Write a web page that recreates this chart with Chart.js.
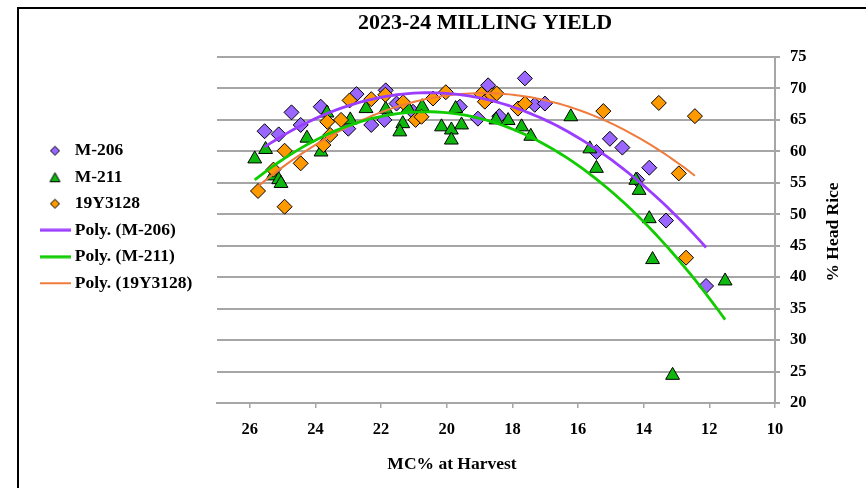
<!DOCTYPE html>
<html>
<head>
<meta charset="utf-8">
<title>2023-24 Milling Yield</title>
<script src="https://cdn.jsdelivr.net/npm/chart.js@4.4.0/dist/chart.umd.min.js"></script>
<style>
  html, body { margin: 0; padding: 0; background: #fff; }
  #wrap { position: relative; width: 866px; height: 488px; overflow: hidden; }
  #frame { position: absolute; left: 17px; top: 7px; width: 900px; height: 520px;
           border-left: 2px solid #000; border-top: 2px solid #000; pointer-events: none; }
</style>
</head>
<body>
<div id="wrap">
  <canvas id="chart" width="866" height="488"></canvas>
  <div id="frame"></div>
</div>
<script>
// Harvest moisture (MC%) and head rice (%) per variety
const mc206 = [25.55, 25.12, 24.73, 24.45, 23.84, 23.0, 22.75, 22.3, 21.9, 21.86, 21.53, 21.03,
               19.6, 19.05, 18.74, 18.4, 17.62, 17.32, 17.01, 15.44, 15.03, 14.65, 14.2, 13.83, 13.32, 12.1];
const hr206 = [63.2, 62.7, 66.2, 64.2, 67.1, 63.6, 69.1, 64.2, 65.0, 69.7, 67.6, 66.3,
               67.1, 65.2, 70.5, 65.6, 71.6, 67.4, 67.6, 59.9, 62.0, 60.6, 55.5, 57.4, 49.0, 38.6];

const mc211 = [25.85, 25.52, 25.3, 25.12, 25.05, 24.26, 23.83, 23.65, 22.94, 22.46, 21.86, 21.34,
               21.43, 21.18, 20.75, 20.16, 19.86, 19.86, 19.55, 19.73, 18.5, 18.13, 17.72, 17.44,
               16.22, 15.64, 15.44, 14.24, 14.14, 13.83, 13.73, 13.12, 11.52];
const hr211 = [58.8, 60.3, 56.1, 55.5, 54.9, 62.1, 59.9, 66.1, 65.0, 66.8, 66.7, 64.4,
               63.1, 66.8, 67.1, 63.9, 63.4, 61.8, 64.2, 66.8, 65.0, 64.9, 63.9, 62.4,
               65.5, 60.4, 57.3, 55.4, 53.8, 49.3, 42.8, 24.4, 39.4];

const mc3128 = [25.75, 25.28, 24.94, 24.94, 24.45, 23.76, 23.64, 23.55, 23.22, 22.96, 22.3, 21.87,
                21.33, 20.95, 20.77, 20.42, 20.03, 18.94, 18.84, 18.62, 18.48, 17.83, 17.62,
                15.23, 13.54, 12.93, 12.71, 12.44];
const hr3128 = [53.7, 57.1, 51.2, 60.1, 58.1, 61.0, 64.7, 62.6, 65.0, 68.1, 68.3, 69.0,
                67.8, 65.0, 65.5, 68.4, 69.4, 69.1, 67.9, 68.9, 69.2, 66.8, 67.6,
                66.4, 67.7, 56.5, 43.1, 65.6];

const seriesNames = ['M-206', 'M-211', '19Y3128'];
const xTicks = { min: 10, max: 27, step: 2 };
const yTicks = { min: 20, max: 75, step: 5 };

const FONT = "'Liberation Serif', 'Times New Roman', serif";

// Second-order least-squares fit y = a + b x + c x^2
function quadFit(xs, ys) {
  const n = xs.length;
  let s = [0, 0, 0, 0, 0], t = [0, 0, 0];
  for (let i = 0; i < n; i++) {
    const x = xs[i], y = ys[i];
    let p = 1;
    for (let k = 0; k <= 4; k++) { s[k] += p; if (k <= 2) t[k] += p * y; p *= x; }
  }
  const A = [[s[0], s[1], s[2], t[0]], [s[1], s[2], s[3], t[1]], [s[2], s[3], s[4], t[2]]];
  for (let i = 0; i < 3; i++) {
    for (let j = i + 1; j < 3; j++) {
      const f = A[j][i] / A[i][i];
      for (let k = i; k < 4; k++) A[j][k] -= f * A[i][k];
    }
  }
  const c = [0, 0, 0];
  for (let i = 2; i >= 0; i--) {
    let v = A[i][3];
    for (let k = i + 1; k < 3; k++) v -= A[i][k] * c[k];
    c[i] = v / A[i][i];
  }
  return c;
}

function trendPoints(xs, ys) {
  const c = quadFit(xs, ys);
  const lo = Math.min(...xs), hi = Math.max(...xs);
  const pts = [];
  const steps = 80;
  for (let i = 0; i <= steps; i++) {
    const x = lo + (hi - lo) * i / steps;
    pts.push({ x, y: c[0] + c[1] * x + c[2] * x * x });
  }
  return pts;
}

const toPts = (xs, ys) => xs.map((x, i) => ({ x, y: ys[i] }));

const COL = {
  p206: '#9966ff', p211: '#0fb80f', p3128: '#ff9900',
  t206: '#9b3dff', t211: '#11cc00', t3128: '#ef7b3c'
};

// Small glyphs used in the legend
function glyph(w, h, draw) {
  const c = document.createElement('canvas');
  c.width = w; c.height = h;
  draw(c.getContext('2d'));
  return c;
}
const legendGlyphs = [
  glyph(12, 12, g => { g.beginPath(); g.moveTo(6, 1.5); g.lineTo(10.5, 6); g.lineTo(6, 10.5); g.lineTo(1.5, 6); g.closePath();
                       g.fillStyle = COL.p206; g.fill(); g.lineWidth = 1; g.strokeStyle = '#000'; g.stroke(); }),
  glyph(13, 12, g => { g.beginPath(); g.moveTo(6.5, 1.5); g.lineTo(11.5, 10.5); g.lineTo(1.5, 10.5); g.closePath();
                       g.fillStyle = COL.p211; g.fill(); g.lineWidth = 1; g.strokeStyle = '#000'; g.stroke(); }),
  glyph(12, 12, g => { g.beginPath(); g.moveTo(6, 1.5); g.lineTo(10.5, 6); g.lineTo(6, 10.5); g.lineTo(1.5, 6); g.closePath();
                       g.fillStyle = COL.p3128; g.fill(); g.lineWidth = 1; g.strokeStyle = '#000'; g.stroke(); }),
  glyph(31, 4, g => { g.fillStyle = COL.t206; g.fillRect(0, 0.5, 31, 3); }),
  glyph(31, 4, g => { g.fillStyle = COL.t211; g.fillRect(0, 0.5, 31, 3); }),
  glyph(31, 4, g => { g.fillStyle = COL.t3128; g.fillRect(0, 1, 31, 2); })
];

// Chart title and axis titles
const titlesPlugin = {
  id: 'titles',
  afterDraw(chart) {
    const ctx = chart.ctx;
    ctx.save();
    ctx.fillStyle = '#000';
    ctx.textAlign = 'center';
    ctx.textBaseline = 'middle';
    ctx.font = 'bold 22px ' + FONT;
    ctx.fillText('2023-24 MILLING YIELD', 485, 23);
    ctx.font = 'bold 17.5px ' + FONT;
    ctx.fillText('MC% at Harvest', 452, 464);
    ctx.translate(833, 232);
    ctx.rotate(-Math.PI / 2);
    ctx.fillText('% Head Rice', 0, 0);
    ctx.restore();
  }
};

const tickFont = { family: FONT, size: 16.5, weight: 'bold' };
const gridGrey = '#a6a6a6';

new Chart(document.getElementById('chart'), {
  type: 'scatter',
  data: {
    datasets: [
      { label: seriesNames[0], data: toPts(mc206, hr206), order: 3,
        pointStyle: 'rectRot', pointRadius: 7.5, backgroundColor: COL.p206, borderColor: '#000', borderWidth: 1 },
      { label: seriesNames[1], data: toPts(mc211, hr211), order: 2,
        pointStyle: 'triangle', pointRadius: 8, backgroundColor: COL.p211, borderColor: '#000', borderWidth: 1 },
      { label: seriesNames[2], data: toPts(mc3128, hr3128), order: 1,
        pointStyle: 'rectRot', pointRadius: 7.5, backgroundColor: COL.p3128, borderColor: '#000', borderWidth: 1 },
      { label: 'Poly. (' + seriesNames[0] + ')', data: trendPoints(mc206, hr206), order: 0, showLine: true,
        pointRadius: 0, borderColor: COL.t206, backgroundColor: COL.t206, borderWidth: 2.8, tension: 0 },
      { label: 'Poly. (' + seriesNames[1] + ')', data: trendPoints(mc211, hr211), order: 0, showLine: true,
        pointRadius: 0, borderColor: COL.t211, backgroundColor: COL.t211, borderWidth: 2.8, tension: 0 },
      { label: 'Poly. (' + seriesNames[2] + ')', data: trendPoints(mc3128, hr3128), order: 0, showLine: true,
        pointRadius: 0, borderColor: COL.t3128, backgroundColor: COL.t3128, borderWidth: 2, tension: 0 }
    ]
  },
  options: {
    responsive: false,
    animation: false,
    devicePixelRatio: 1,
    layout: { padding: { left: 35, top: 57, right: 0, bottom: 0 } },
    plugins: {
      tooltip: { enabled: false },
      title: { display: false },
      legend: {
        display: true,
        position: 'left',
        align: 'start',
        maxWidth: 300,
        title: { display: true, text: ' ', font: { size: 10 }, padding: { top: 64, bottom: 0 } },
        labels: {
          usePointStyle: true,
          pointStyleWidth: 22,
          padding: 9,
          color: '#000',
          font: { family: FONT, size: 17.5, weight: 'bold' },
          sort: (a, b) => a.datasetIndex - b.datasetIndex,
          generateLabels(chart) {
            const items = Chart.defaults.plugins.legend.labels.generateLabels(chart);
            items.forEach(it => { it.pointStyle = legendGlyphs[it.datasetIndex]; it.rotation = 0; });
            return items;
          }
        }
      }
    },
    scales: {
      x: {
        type: 'linear', reverse: true, min: xTicks.min, max: xTicks.max,
        ticks: { stepSize: xTicks.step, includeBounds: false, color: '#000', font: tickFont, padding: 12, maxRotation: 0 },
        grid: { drawOnChartArea: false, drawTicks: true, tickLength: 5, color: gridGrey, lineWidth: 1.5 },
        border: { display: true, color: gridGrey, width: 2 },
        afterFit(s) { s.height = 85; }
      },
      y: {
        type: 'linear', position: 'right', min: yTicks.min, max: yTicks.max,
        ticks: { stepSize: yTicks.step, color: '#000', font: tickFont, padding: 10 },
        grid: { color: gridGrey, lineWidth: 2, tickLength: 5 },
        border: { display: true, color: gridGrey, width: 2 },
        afterFit(s) { s.width = 91; }
      },
      spacer: {
        type: 'linear', position: 'left', display: true,
        ticks: { display: false }, grid: { display: false }, border: { display: false },
        afterFit(s) {
          const lg = s.chart.legend;
          s.width = Math.max(0, 217 - 35 - (lg ? lg.width : 168));
        }
      }
    }
  },
  plugins: [titlesPlugin]
});
</script>
</body>
</html>
